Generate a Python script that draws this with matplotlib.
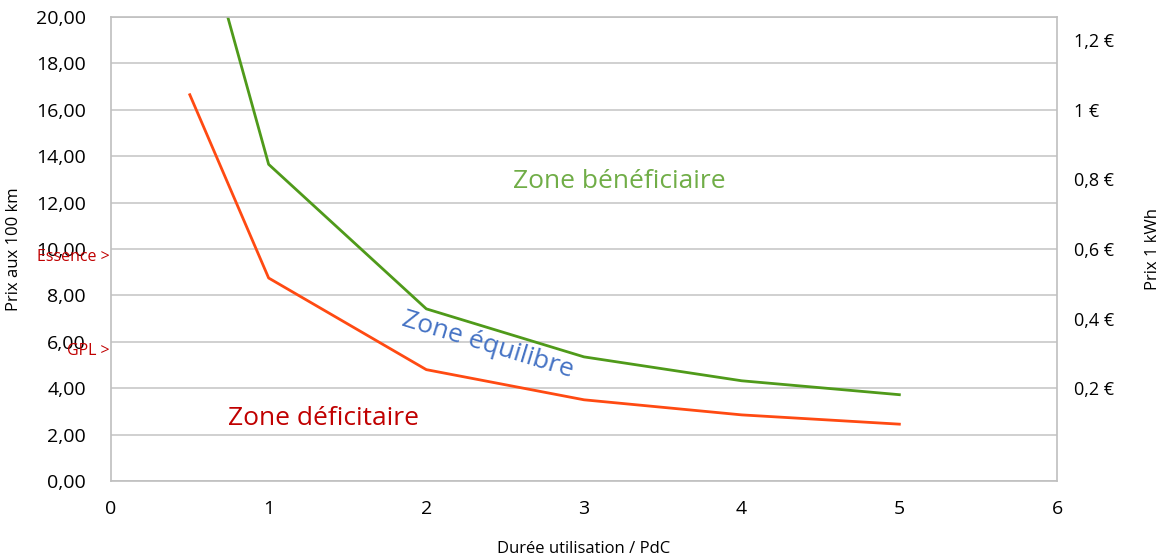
import matplotlib.pyplot as plt
from matplotlib.ticker import FuncFormatter

plt.rcParams['font.family'] = ['Open Sans', 'DejaVu Sans']

duree = [0.5, 1, 2, 3, 4, 5]
prix_beneficiaire = [25.9, 13.65, 7.42, 5.35, 4.32, 3.72]
prix_deficitaire = [16.65, 8.75, 4.8, 3.5, 2.85, 2.45]
kwh_ticks = [0.2, 0.4, 0.6, 0.8, 1.0, 1.2]
kwh_labels = ['0,2 €', '0,4 €', '0,6 €', '0,8 €', '1 €', '1,2 €']

fig = plt.figure(figsize=(11.68, 5.58), dpi=100)
ax = fig.add_axes([0.095, 0.138, 0.81, 0.8315])

ax.plot(duree, prix_beneficiaire, color='#4f9a1a', lw=2)
ax.plot(duree, prix_deficitaire, color='#ff4a12', lw=2)

ax.set_xlim(0, 6)
ax.set_ylim(0, 20)
ax.set_yticks(range(0, 21, 2))
ax.yaxis.set_major_formatter(FuncFormatter(lambda v, p: f'{v:.2f}'.replace('.', ',')))
ax.grid(axis='y', color='#c8c8c8', lw=1.2)
ax.set_axisbelow(True)
for s in ax.spines.values():
    s.set_color('#bfbfbf')
    s.set_linewidth(1.2)
ax.tick_params(length=0, labelsize=14)
ax.tick_params(axis='y', pad=18)
ax.tick_params(axis='x', pad=14)
ax.set_xlabel('Durée utilisation / PdC', fontsize=12, labelpad=16)
ax.set_ylabel('Prix aux 100 km', fontsize=12, labelpad=10)

# axe de droite : prix du kWh (y = 1 + 15 * prix)
ax2 = ax.twinx()
ax2.set_ylim(-1 / 15, 19 / 15)
ax2.set_yticks(kwh_ticks)
ax2.set_yticklabels(kwh_labels)
ax2.tick_params(length=0, labelsize=13, pad=12)
for s in ax2.spines.values():
    s.set_visible(False)
ax2.set_ylabel('Prix 1 kWh', fontsize=12, labelpad=22)

ax.text(2.55, 12.9, 'Zone bénéficiaire', color='#70ad47', fontsize=19, va='center')
ax.text(2.39, 5.85, 'Zone équilibre', color='#4472c4', fontsize=19, va='center',
        ha='center', rotation=-17)
ax.text(0.74, 2.7, 'Zone déficitaire', color='#c00000', fontsize=19, va='center')
ax.text(-0.01, 9.65, 'Essence >', color='#c00000', fontsize=11.5, ha='right', va='center',
        clip_on=False)
ax.text(-0.01, 5.6, 'GPL >', color='#c00000', fontsize=11.5, ha='right', va='center',
        clip_on=False)

fig.savefig('out.png')
